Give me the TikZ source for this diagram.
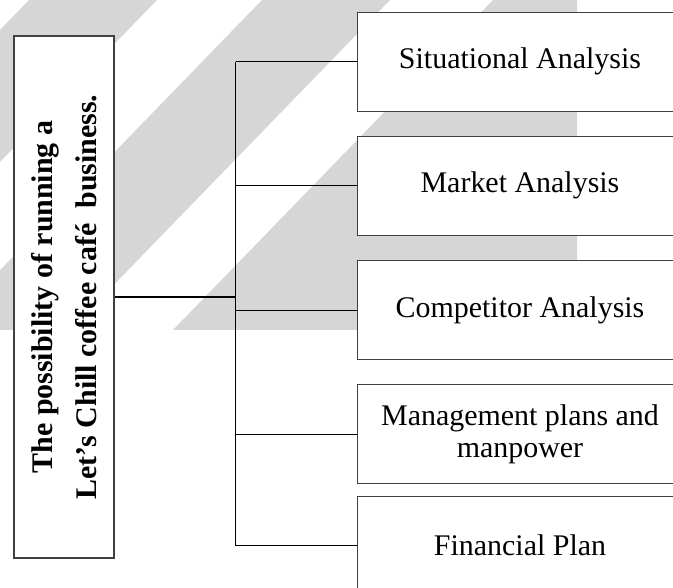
\documentclass[tikz,border=0pt]{standalone}
\usepackage{fontspec}
\setmainfont{Liberation Serif}
\usepackage{tikz}
\definecolor{wmgray}{RGB}{214,214,214}

\begin{document}
\begin{tikzpicture}
				\useasboundingbox (0,0) rectangle (16.825,-14.7);
				\clip (0,0) rectangle (16.825,-14.7);
				% watermark stripes in the back
				\fill[wmgray] (0.725,0) -- (3.925,0) -- (-4.075,-8.25) -- (-7.275,-8.25) -- cycle;
				\fill[wmgray] (6.55,0) -- (9.75,0) -- (1.75,-8.25) -- (-1.45,-8.25) -- cycle;
				\fill[wmgray] (12.325,0) -- (14.425,0) -- (14.425,-8.25) -- (4.325,-8.25) -- cycle;
				\begin{scope}[every node/.style = {rectangle, draw=black!75, fill=white,
						line width=0.7pt, align=center,
						font = \fontsize{21.3}{22.8}\selectfont,
						minimum width=8.15cm, minimum height=2.475cm}]
					\node [rotate=90, minimum width=13.05cm, minimum height=2.5cm,
						line width=0.8pt, font=\bfseries\fontsize{21.3}{31.3}\selectfont]
						(T) at (1.6,-7.425) {The possibility of running a\\Let’s Chill coffee café\ \ business.};
					\node (S) at (13,-1.543) {Situational Analysis};
					\node (M) at (13,-4.643) {Market Analysis};
					\node (C) at (13,-7.75) {Competitor Analysis};
					\node (P) at (13,-10.85) {Management plans and\\manpower};
					\node (F) at (13,-13.64) {Financial Plan};
				\end{scope}
					\coordinate (J) at (5.89,-7.425);
				\begin{scope}[every edge/.style={draw=black, line width=0.7pt}]
					\path [-] (T.south) edge [line width=1.05pt] (J);
					\path [-] (J |- S.west) edge (J |- F.west);
					\path [-] (J |- S.west) edge (S.west);
					\path [-] (J |- M.west) edge (M.west);
					\path [-] (J |- C.west) edge (C.west);
					\path [-] (J |- P.west) edge (P.west);
					\path [-] (J |- F.west) edge (F.west);
				\end{scope}
			\end{tikzpicture}
\end{document}
